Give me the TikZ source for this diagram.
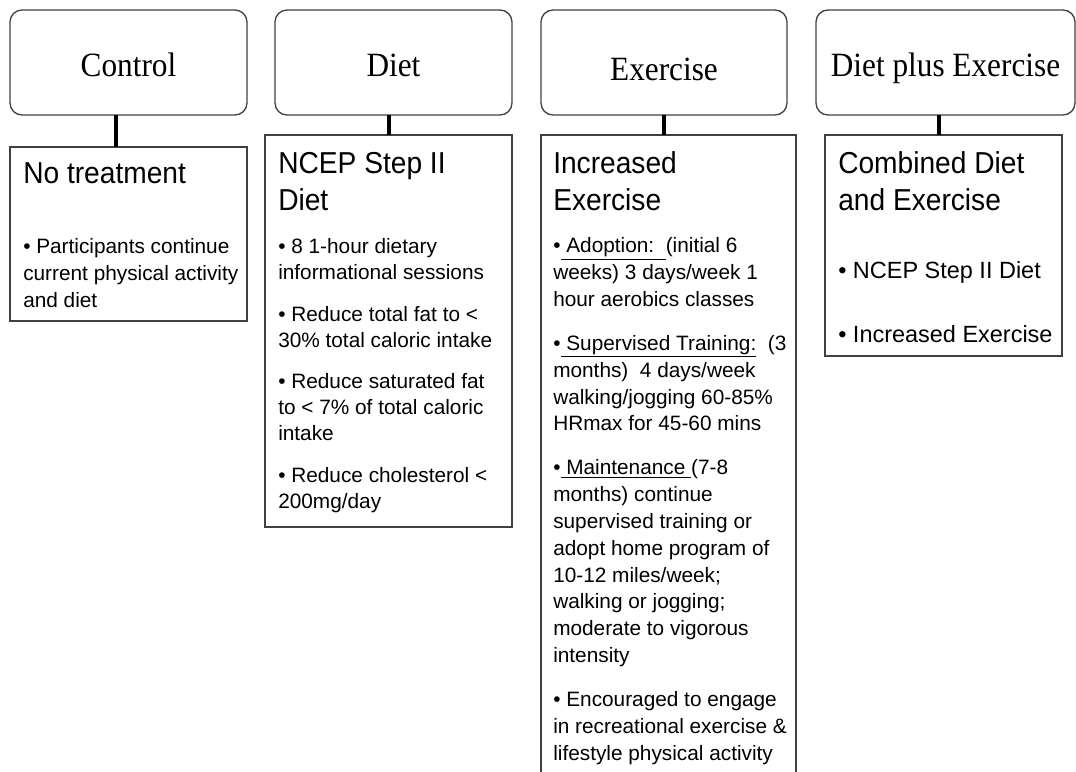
\documentclass[tikz,border=0pt]{standalone}
\usepackage{fontspec}
\setmainfont{Liberation Sans}
\newfontfamily\titlefont[FakeStretch=0.92]{Liberation Serif}
\newfontfamily\headfont[FakeStretch=0.93]{Liberation Sans}
\usetikzlibrary{positioning,calc}
\newcommand{\pxu}{0.75pt}

\begin{document}
\begin{tikzpicture}[
    x=0.75pt, y=-0.75pt,
    armbox/.style={rectangle, rounded corners=9pt, draw=black!75, line width=1pt, outer sep=0pt,
        minimum height=105*\pxu, font=\titlefont\fontsize{25.5pt}{30pt}\selectfont,
        text height=20.25pt, text depth=0pt},
    infobox/.style={rectangle, draw=black!75, line width=1pt, outer sep=0pt, anchor=north},
    headtext/.style={anchor=base west, align=left, inner sep=0pt,
        font=\headfont\fontsize{22.7pt}{27.75pt}\selectfont},
    bodytext/.style={anchor=base west, align=left, inner sep=0pt,
        font=\fontsize{15.6pt}{20.1pt}\selectfont},
    link/.style={line width=2.5pt}
]
\clip (0,0) rectangle (1076,772);

% Study arms
\node[armbox, minimum width=237*\pxu] (ctrl) at (128.5, 62.5) {Control};
\node[armbox, minimum width=237*\pxu] (diet) at (393.5, 62.5) {Diet};
\node[armbox, minimum width=246*\pxu, text height=26.25pt] (exer) at (664, 62.5) {Exercise};
\node[armbox, minimum width=259*\pxu] (both) at (945.5, 62.5) {Diet plus Exercise};

% Intervention boxes
\node[infobox, minimum width=237*\pxu, minimum height=174*\pxu] (ctrlbox) at (128.5, 147) {};
\node[infobox, minimum width=247*\pxu, minimum height=392*\pxu] (dietbox) at (388.5, 135) {};
\node[infobox, minimum width=255*\pxu, minimum height=700*\pxu] (exerbox) at (668.5, 135) {};
\node[infobox, minimum width=237*\pxu, minimum height=221*\pxu] (bothbox) at (943.5, 135) {};

% Connectors
\coordinate (ctrlc) at ([xshift=-12.5*\pxu]ctrl.south);
\coordinate (dietc) at ([xshift=-4.5*\pxu]diet.south);
\coordinate (exerc) at (exer.south);
\coordinate (bothc) at ([xshift=-6.5*\pxu]both.south);
\draw[link] (ctrlc) -- (ctrlc |- ctrlbox.north);
\draw[link] (dietc) -- (dietc |- dietbox.north);
\draw[link] (exerc) -- (exerc |- exerbox.north);
\draw[link] (bothc) -- (bothc |- bothbox.north);

% Control (texts sit on the baseline of their last line)
\node[headtext] (ctrlhead) at ($(ctrlbox.north west)+(13,36)$) {No treatment};
\node[bodytext] (ctrlbody) at ($(ctrlbox.north west)+(13,160)$)
    {• Participants continue\\current physical activity\\and diet};

% Diet
\node[headtext] (diethead) at ($(dietbox.north west)+(13,75)$) {NCEP Step II\\Diet};
\node[bodytext, font=\fontsize{15.6pt}{19.5pt}\selectfont] (dietbody) at ($(dietbox.north west)+(13,373)$)
    {• 8 1-hour dietary\\informational sessions\\[11.6pt]
     • Reduce total fat to <\\30\% total caloric intake\\[11.6pt]
     • Reduce saturated fat\\to < 7\% of total caloric\\intake\\[11.6pt]
     • Reduce cholesterol <\\200mg/day};

% Exercise
\node[headtext] (exerhead) at ($(exerbox.north west)+(12,75)$) {Increased\\Exercise};
\node[bodytext] (exerbody) at ($(exerbox.north west)+(12,625)$)
    {•\underline{\ Adoption:\ \ }(initial 6\\weeks) 3 days/week 1\\hour aerobics classes\\[12.9pt]
     •\underline{\ Supervised Training:}\ \ (3\\months)\ \ 4 days/week\\walking/jogging 60-85\%\\HRmax for 45-60 mins\\[12.9pt]
     •\underline{\ Maintenance\ }(7-8\\months) continue\\supervised training or\\adopt home program of\\10-12 miles/week;\\walking or jogging;\\moderate to vigorous\\intensity\\[12.9pt]
     • Encouraged to engage\\in recreational exercise \&\\lifestyle physical activity};

% Diet plus Exercise
\node[headtext] (bothhead) at ($(bothbox.north west)+(13,75)$) {Combined Diet\\and Exercise};
\node[bodytext, font=\fontsize{17.6pt}{20pt}\selectfont] (bothbody) at ($(bothbox.north west)+(13,207)$)
    {• NCEP Step II Diet\\[28pt]• Increased Exercise};

\end{tikzpicture}
\end{document}
